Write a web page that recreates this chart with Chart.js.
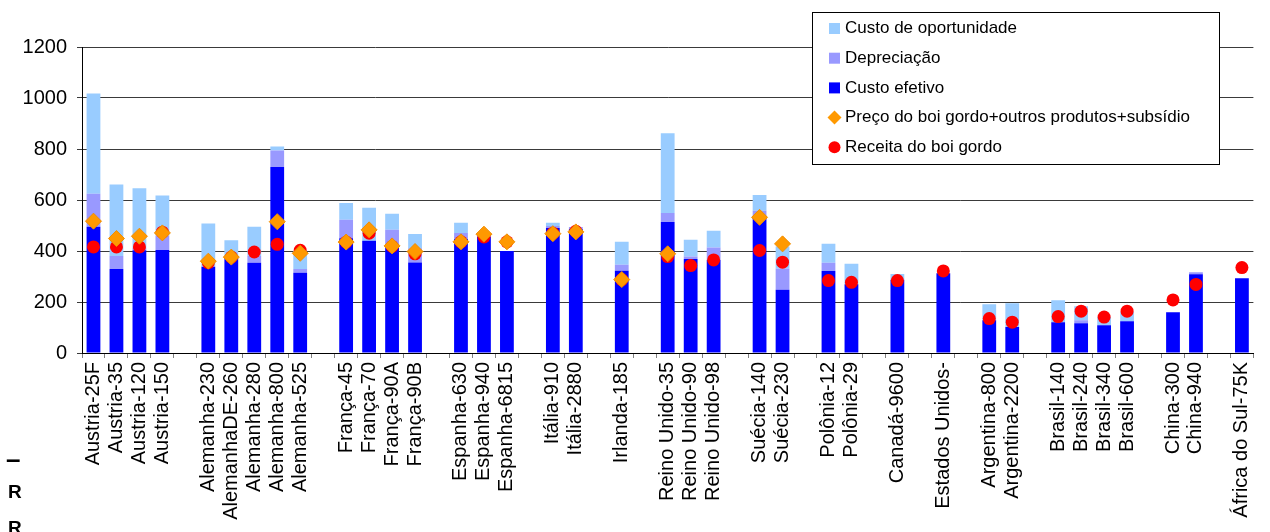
<!DOCTYPE html>
<html lang="pt">
<head>
    <meta charset="UTF-8">
    <title>Custo e receita da produção de boi gordo</title>
    <script src="https://cdn.jsdelivr.net/npm/chart.js@4.4.0/dist/chart.umd.min.js"></script>
    <style>
        html, body {
            margin: 0;
            padding: 0;
            background: #ffffff;
        }
        .chart-container {
            position: relative;
            width: 1270px;
            height: 532px;
        }
    </style>
</head>
<body>
    <div class="chart-container">
        <canvas id="custoChart"></canvas>
    </div>

    <script>
        // categories ('' = empty gap between countries)
        const categorias = [
            'Austria-25F', 'Austria-35', 'Austria-120', 'Austria-150', '',
            'Alemanha-230', 'AlemanhaDE-260', 'Alemanha-280', 'Alemanha-800', 'Alemanha-525', '',
            'França-45', 'França-70', 'França-90A', 'França-90B', '',
            'Espanha-630', 'Espanha-940', 'Espanha-6815', '',
            'Itália-910', 'Itália-2880', '',
            'Irlanda-185', '',
            'Reino Unido-35', 'Reino Unido-90', 'Reino Unido-98', '',
            'Suécia-140', 'Suécia-230', '',
            'Polônia-12', 'Polônia-29', '',
            'Canadá-9600', '',
            'Estados Unidos-', '',
            'Argentina-800', 'Argentina-2200', '',
            'Brasil-140', 'Brasil-240', 'Brasil-340', 'Brasil-600', '',
            'China-300', 'China-940', '',
            'África do Sul-75K'
        ];

        // values (approximate)
        const custoEfetivo = [
            495, 329, 403, 404, null,
            338, 377, 354, 729, 315, null,
            450, 440, 418, 355, null,
            447, 457, 400, null,
            490, 486, null,
            323, null,
            514, 369, 365, null,
            535, 248, null,
            322, 270, null,
            287, null,
            313, null,
            128, 102, null,
            121, 117, 109, 125, null,
            160, 309, null,
            293
        ];
        const depreciacao = [
            130, 51, 10, 56, null,
            0, 0, 26, 65, 14, null,
            73, 0, 65, 56, null,
            24, 0, 0, null,
            8, 8, null,
            23, null,
            35, 9, 49, null,
            23, 83, null,
            32, 0, null,
            0, null,
            0, null,
            0, 0, null,
            0, 11, 0, 0, null,
            0, 8, null,
            0
        ];
        const custoOportunidade = [
            393, 281, 233, 158, null,
            170, 65, 115, 16, 71, null,
            65, 130, 63, 56, null,
            40, 0, 0, null,
            13, 0, null,
            90, null,
            313, 66, 65, null,
            62, 87, null,
            74, 80, null,
            23, null,
            0, null,
            63, 93, null,
            86, 55, 32, 36, null,
            0, 0, null,
            0
        ];
        const precoBoi = [
            517, 449, 458, 471, null,
            360, 376, null, 515, 391, null,
            435, 483, 420, 398, null,
            436, 466, 436, null,
            468, 475, null,
            288, null,
            389, null, null, null,
            532, 428, null,
            null, null, null,
            null, null,
            null, null,
            null, null, null,
            null, null, null, null, null,
            null, null, null,
            null
        ];
        const receitaBoi = [
            416, 416, 416, 474, null,
            354, 376, 396, 426, 403, null,
            435, 470, 418, 389, null,
            436, 455, 436, null,
            470, 477, null,
            288, null,
            378, 343, 365, null,
            402, 356, null,
            284, 277, null,
            284, null,
            322, null,
            135, 121, null,
            143, 164, 141, 164, null,
            208, 269, null,
            335
        ];
        const yTicks = [0, 200, 400, 600, 800, 1000, 1200];

        const fonte = "'Liberation Sans', Arial, sans-serif";

        // legend box drawn over the plot, like the original
        const legendaCaixa = {
            id: 'legendaCaixa',
            afterDraw(chart) {
                const ctx = chart.ctx;
                const ds = chart.data.datasets;
                const ordem = [2, 1, 0, 3, 4];
                ctx.save();
                ctx.fillStyle = '#ffffff';
                ctx.fillRect(812, 12, 407, 152);
                ctx.strokeStyle = '#000000';
                ctx.lineWidth = 1;
                ctx.strokeRect(812.5, 12.5, 407, 152);

                ctx.font = '17px ' + fonte;
                ctx.textBaseline = 'middle';
                ordem.forEach((idx, i) => {
                    const d = ds[idx];
                    const cy = 28.5 + i * 29.7;
                    const cx = 834.5;
                    ctx.fillStyle = d.backgroundColor;
                    if (d.type === 'line' && d.pointStyle === 'rectRot') {
                        ctx.beginPath();
                        ctx.moveTo(cx, cy - 7);
                        ctx.lineTo(cx + 7, cy);
                        ctx.lineTo(cx, cy + 7);
                        ctx.lineTo(cx - 7, cy);
                        ctx.closePath();
                        ctx.fill();
                    } else if (d.type === 'line') {
                        ctx.beginPath();
                        ctx.arc(cx, cy, 6, 0, 2 * Math.PI);
                        ctx.fill();
                    } else {
                        ctx.fillRect(cx - 5.5, cy - 5.5, 11, 11);
                    }
                    ctx.fillStyle = '#000000';
                    ctx.fillText(d.label, 845, cy);
                });

                // cut-off text fragments at the left edge of the original page
                ctx.font = 'bold 19px ' + fonte;
                ctx.fillText('R', 8, 493);
                ctx.fillText('R', 8, 529);
                ctx.font = 'bold 26px ' + fonte;
                ctx.fillText('\u2013', 6, 461);
                ctx.restore();
            }
        };

        const ctx = document.getElementById('custoChart').getContext('2d');

        new Chart(ctx, {
            type: 'bar',
            data: {
                labels: categorias,
                datasets: [
                    {
                        label: 'Custo efetivo',
                        data: custoEfetivo,
                        backgroundColor: '#0000FF',
                        stack: 'custo',
                        order: 2,
                        barPercentage: 0.6,
                        categoryPercentage: 1.0
                    },
                    {
                        label: 'Depreciação',
                        data: depreciacao,
                        backgroundColor: '#9999FF',
                        stack: 'custo',
                        order: 2,
                        barPercentage: 0.6,
                        categoryPercentage: 1.0
                    },
                    {
                        label: 'Custo de oportunidade',
                        data: custoOportunidade,
                        backgroundColor: '#99CCFF',
                        stack: 'custo',
                        order: 2,
                        barPercentage: 0.6,
                        categoryPercentage: 1.0
                    },
                    {
                        type: 'line',
                        label: 'Preço do boi gordo+outros produtos+subsídio',
                        data: precoBoi,
                        backgroundColor: '#FF9900',
                        borderColor: '#F08C00',
                        borderWidth: 1,
                        pointStyle: 'rectRot',
                        pointRadius: 8,
                        showLine: false,
                        stack: 'preco',
                        order: 0
                    },
                    {
                        type: 'line',
                        label: 'Receita do boi gordo',
                        data: receitaBoi,
                        backgroundColor: '#FF0000',
                        borderColor: '#FF0000',
                        borderWidth: 0,
                        pointStyle: 'circle',
                        pointRadius: 6.5,
                        showLine: false,
                        stack: 'receita',
                        order: 1
                    }
                ]
            },
            options: {
                responsive: true,
                maintainAspectRatio: false,
                animation: false,
                events: [],
                layout: {
                    padding: { top: 47, left: 0, right: 0, bottom: 0 }
                },
                plugins: {
                    legend: { display: false },
                    tooltip: { enabled: false }
                },
                scales: {
                    x: {
                        stacked: true,
                        grid: {
                            offset: true,
                            drawOnChartArea: false,
                            drawTicks: true,
                            tickLength: 5,
                            color: '#808080'
                        },
                        border: { color: '#000000' },
                        ticks: {
                            autoSkip: false,
                            minRotation: 90,
                            maxRotation: 90,
                            padding: 4,
                            color: '#000000',
                            font: { family: fonte, size: 20 }
                        },
                        afterFit(scale) {
                            scale.height = 179;
                        }
                    },
                    y: {
                        stacked: true,
                        min: yTicks[0],
                        max: yTicks[yTicks.length - 1],
                        grid: {
                            color: '#3a3a3a',
                            tickLength: 5
                        },
                        border: { color: '#000000' },
                        ticks: {
                            stepSize: yTicks[1] - yTicks[0],
                            padding: 10,
                            color: '#000000',
                            font: { family: fonte, size: 20 },
                            callback: (value) => String(value)
                        },
                        afterFit(scale) {
                            scale.width = 82;
                        }
                    }
                }
            },
            plugins: [legendaCaixa]
        });
    </script>
</body>
</html>
